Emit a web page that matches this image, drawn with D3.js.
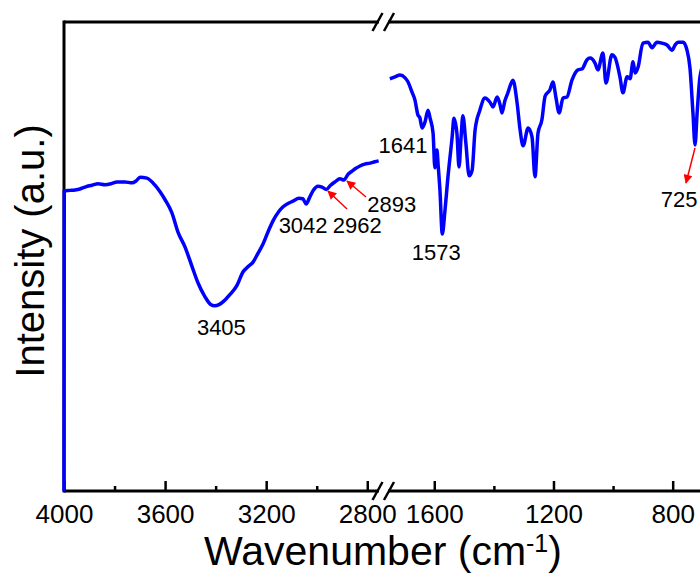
<!DOCTYPE html>
<html>
<head>
<meta charset="utf-8">
<script src="https://cdn.jsdelivr.net/npm/d3@7"></script>
<style>
  html, body { margin: 0; padding: 0; background: #fff; }
  svg { display: block; }
  text { font-family: "Liberation Sans", Arial, sans-serif; fill: #000; }
</style>
</head>
<body>
<script>
// ---------- data ----------
// High-wavenumber segment (cm-1) and intensity (a.u.)
const leftWave = [4000, 3999, 3976, 3956, 3937, 3917, 3889, 3865, 3838, 3814, 3790, 3759, 3731, 3715, 3699, 3672, 3640, 3620, 3600, 3573, 3549, 3521, 3493, 3470, 3442, 3418, 3405, 3385, 3360, 3343, 3315, 3292, 3270, 3252, 3233, 3213, 3190, 3173, 3150, 3133, 3110, 3094, 3070, 3055, 3042, 3028, 3015, 2995, 2979, 2962, 2945, 2928, 2908, 2893, 2875, 2860, 2845, 2829, 2810, 2789, 2770, 2755];
const leftInt  = [0, 64.0, 64.1, 64.2, 64.4, 64.8, 65.2, 65.5, 65.3, 65.5, 65.9, 65.9, 65.7, 66.1, 66.9, 66.7, 65.2, 63.8, 62.1, 59.3, 55.2, 52.0, 47.8, 44.4, 41.4, 39.7, 39.5, 39.8, 40.9, 41.9, 43.9, 46.7, 47.9, 48.8, 50.6, 52.6, 55.6, 57.6, 59.6, 60.6, 61.4, 61.8, 62.4, 62.3, 61.2, 62.6, 64.0, 65.0, 64.8, 64.3, 65.2, 65.9, 66.6, 66.3, 67.6, 68.2, 68.8, 69.3, 69.7, 69.9, 70.2, 70.4];

// Fingerprint segment (cm-1) and intensity (a.u.)
const rightWave = [1749, 1732, 1715, 1698, 1688, 1675, 1665, 1655, 1648, 1641, 1631, 1621, 1614, 1604, 1598, 1591, 1587, 1581, 1573, 1564, 1554, 1540, 1534, 1524, 1517, 1510, 1504, 1494, 1483, 1473, 1463, 1447, 1430, 1413, 1403, 1389, 1379, 1373, 1363, 1353, 1336, 1322, 1312, 1302, 1285, 1272, 1262, 1252, 1239, 1228, 1212, 1202, 1192, 1181, 1168, 1155, 1138, 1118, 1104, 1088, 1077, 1061, 1051, 1034, 1024, 1004, 994, 977, 967, 953, 943, 933, 926, 916, 900, 883, 869, 853, 836, 819, 802, 792, 782, 765, 752, 742, 732, 725, 718, 708, 692, 675];
const rightInt  = [87.9, 88.3, 88.7, 88.1, 87.2, 85.1, 83.4, 80.2, 79.5, 77.4, 78.7, 81.2, 79.5, 76.3, 68.9, 72.7, 69.5, 64.2, 54.8, 59.9, 67.0, 75.5, 79.5, 76.3, 69.1, 75.5, 80.0, 74.2, 67.2, 68.4, 77.0, 81.2, 83.8, 82.9, 81.9, 84.0, 82.3, 80.6, 83.2, 84.9, 87.6, 82.7, 77.0, 73.6, 77.4, 75.5, 67.0, 76.3, 79.1, 84.2, 85.5, 87.2, 84.0, 80.6, 83.8, 84.0, 87.6, 89.8, 90.0, 91.9, 92.3, 91.3, 89.8, 93.4, 87.0, 93.0, 92.5, 88.3, 84.9, 88.3, 87.9, 91.5, 89.1, 90.4, 95.5, 95.7, 94.5, 95.7, 95.5, 95.1, 94.0, 95.1, 95.7, 95.7, 94.0, 90.2, 80.6, 73.8, 80.6, 88.5, 91.5, 92.0];

// tick values
const leftMajorTicks = [4000, 3600, 3200, 2800];
const leftMinorTicks = [3800, 3400, 3000];
const rightMajorTicks = [1600, 1200, 800];
const rightMinorTicks = [1400, 1000];

// peak annotations
const peakLabels = ["3405", "3042", "2962", "2893", "1641", "1573", "725"];
const peakWaves  = [3405, 3042, 2962, 2893, 1641, 1573, 725];

// ---------- layout ----------
const W = 700, H = 574;
const plotTop = 22, plotBottom = 491, plotLeft = 64;
const breakX = 384;

const svg = d3.select("body").append("svg").attr("width", W).attr("height", H);

const xL = d3.scaleLinear().domain([4000, 2735]).range([plotLeft, breakX - 0.3]);
const xR = d3.scaleLinear().domain([1768, 400]).range([breakX + 0.2, 791.9]);
const y = d3.scaleLinear().domain([0, 100]).range([plotBottom, plotTop]);
const rightEdge = xR(400);

// frame
const frame = svg.append("g").attr("stroke", "#000").attr("stroke-width", 3).attr("fill", "none");
frame.append("line").attr("x1", plotLeft).attr("x2", rightEdge).attr("y1", plotTop).attr("y2", plotTop);
frame.append("line").attr("x1", plotLeft).attr("x2", rightEdge).attr("y1", plotBottom).attr("y2", plotBottom);
frame.append("line").attr("x1", plotLeft).attr("x2", plotLeft).attr("y1", plotTop - 1.5).attr("y2", plotBottom + 1.5);
frame.append("line").attr("x1", rightEdge).attr("x2", rightEdge).attr("y1", plotTop).attr("y2", plotBottom);

// axes
function addAxis(scale, major, minor) {
  const gMaj = svg.append("g").attr("transform", `translate(0,${plotBottom})`)
    .call(d3.axisBottom(scale).tickValues(major).tickFormat(d3.format("d"))
      .tickSizeInner(-10).tickSizeOuter(0).tickPadding(13.5));
  gMaj.select(".domain").remove();
  gMaj.selectAll(".tick line").attr("stroke", "#000").attr("stroke-width", 2.5);
  gMaj.selectAll(".tick text").attr("font-size", 26).attr("font-family", "Liberation Sans, Arial, sans-serif");
  const gMin = svg.append("g").attr("transform", `translate(0,${plotBottom})`)
    .call(d3.axisBottom(scale).tickValues(minor).tickFormat("")
      .tickSizeInner(-5).tickSizeOuter(0));
  gMin.select(".domain").remove();
  gMin.selectAll(".tick line").attr("stroke", "#000").attr("stroke-width", 2.5);
}
addAxis(xL, leftMajorTicks, leftMinorTicks);
addAxis(xR, rightMajorTicks, rightMinorTicks);

// axis break marks
[plotTop, plotBottom].forEach(yy => {
  svg.append("rect").attr("x", 379).attr("y", yy - 3).attr("width", 9).attr("height", 6).attr("fill", "#fff");
  [377.5, 389].forEach(cx => {
    svg.append("line").attr("x1", cx - 5).attr("y1", yy + 9).attr("x2", cx + 5).attr("y2", yy - 9)
      .attr("stroke", "#000").attr("stroke-width", 2.5);
  });
});

// spectrum lines
const leftData = leftWave.map((w, i) => [w, leftInt[i]]);
const rightData = rightWave.map((w, i) => [w, rightInt[i]]);
const lineL = d3.line().x(d => xL(d[0])).y(d => y(d[1])).curve(d3.curveMonotoneX);
const lineR = d3.line().x(d => xR(d[0])).y(d => y(d[1])).curve(d3.curveMonotoneX);
svg.append("path").datum(leftData).attr("d", lineL)
  .attr("fill", "none").attr("stroke", "#0000ff").attr("stroke-width", 3.5).attr("stroke-linejoin", "round");
svg.append("path").datum(rightData).attr("d", lineR)
  .attr("fill", "none").attr("stroke", "#0000ff").attr("stroke-width", 3.5).attr("stroke-linejoin", "round");

// peak labels (offsets are layout)
const labelOffsets = [
  {dx: 7,   y: 335, s: "L"},
  {dx: -3,  y: 233, s: "L"},
  {dx: 31,  y: 233, s: "L"},
  {dx: 48,  y: 212, s: "L"},
  {dx: -19, y: 153, s: "R"},
  {dx: -6,  y: 260, s: "R"},
  {dx: -16, y: 207, s: "R"}
];
peakLabels.forEach((lab, i) => {
  const o = labelOffsets[i];
  const sx = o.s === "L" ? xL : xR;
  svg.append("text").attr("x", sx(peakWaves[i]) + o.dx).attr("y", o.y)
    .attr("text-anchor", "middle").attr("font-size", 22).text(lab);
});

// red arrows
const defs = svg.append("defs");
defs.append("marker").attr("id", "ah").attr("viewBox", "0 0 10 10")
  .attr("refX", 9).attr("refY", 5).attr("markerWidth", 11).attr("markerHeight", 9)
  .attr("markerUnits", "userSpaceOnUse").attr("orient", "auto")
  .append("path").attr("d", "M0,0 L10,5 L0,10 Z").attr("fill", "#ff0000");
const arrows = [
  {x1: 347, y1: 209, x2: 328, y2: 191},
  {x1: 366, y1: 197, x2: 347, y2: 181},
  {x1: 695, y1: 148, x2: 686, y2: 183}
];
arrows.forEach(a => {
  svg.append("line").attr("x1", a.x1).attr("y1", a.y1).attr("x2", a.x2).attr("y2", a.y2)
    .attr("stroke", "#ff0000").attr("stroke-width", 1.5).attr("marker-end", "url(#ah)");
});

// axis titles
const xt = svg.append("text").attr("x", 383).attr("y", 565).attr("text-anchor", "middle").attr("font-size", 41);
xt.append("tspan").text("Wavenumber (cm");
xt.append("tspan").attr("font-size", 25).attr("dy", -13).text("-1");
xt.append("tspan").attr("dy", 13).text(")");

svg.append("text").attr("transform", "translate(43.5,251) rotate(-90)")
  .attr("text-anchor", "middle").attr("font-size", 40).text("Intensity (a.u.)");
</script>
</body>
</html>
